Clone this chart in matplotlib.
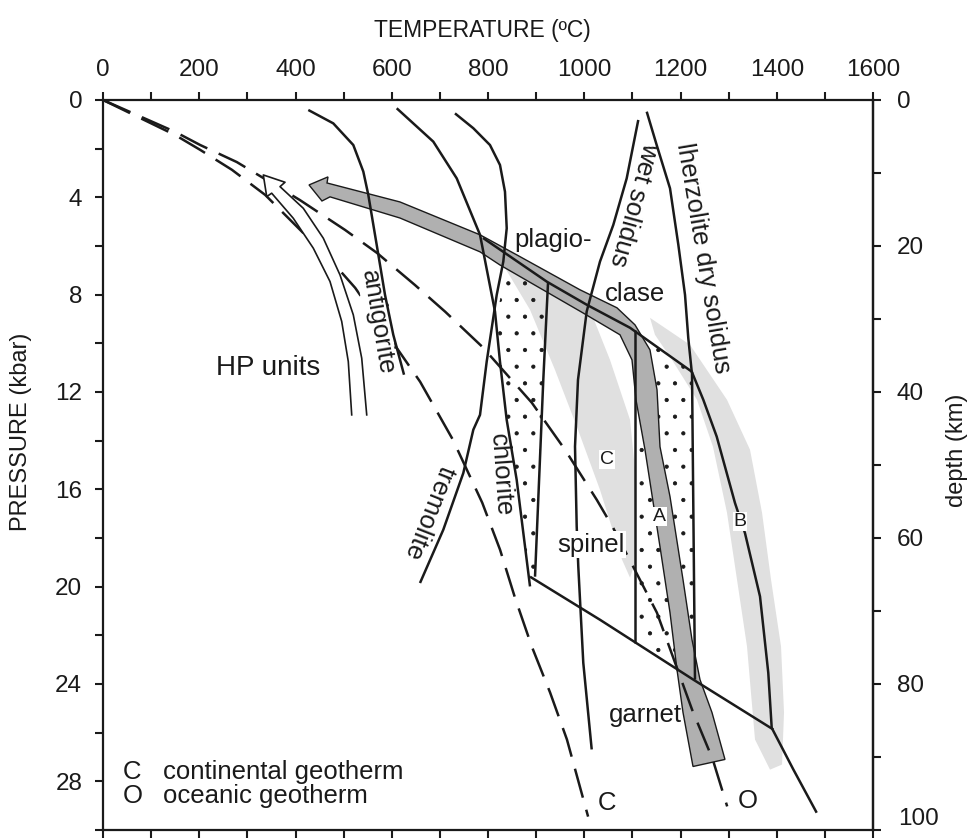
import matplotlib
matplotlib.use('Agg')
import matplotlib.pyplot as plt
from matplotlib.patches import Polygon
from matplotlib.ticker import MultipleLocator, FixedLocator

plt.rcParams['font.family'] = ['Liberation Sans', 'DejaVu Sans']
plt.rcParams['hatch.linewidth'] = 0.6

# ---------------- data (temperature in deg C, pressure in kbar) ----------------
oceanic_T = [0, 150, 202, 278, 409, 503, 569, 648, 711, 788, 891, 960, 1026, 1060, 1151, 1224, 1267, 1297]
oceanic_P = [0, 1.31, 1.85, 2.55, 4.11, 5.34, 6.28, 7.6, 8.7, 10.14, 12.44, 14.37, 16.43, 17.58, 21.07, 25.05, 27.1, 29.03]

continental_T = [0, 150, 202, 268, 337, 478, 524, 659, 727, 788, 825, 856, 891, 929, 964, 1008]
continental_P = [0, 1.44, 2.05, 2.87, 3.9, 6.69, 7.72, 11.58, 13.96, 16.55, 18.48, 20.45, 22.46, 24.35, 26.28, 29.45]

antigorite_T = [426.6, 478.5, 520.1, 540.9, 551.3, 568.7, 586.0, 603.2, 625.5]
antigorite_P = [0.41, 0.96, 1.85, 2.94, 3.90, 5.95, 8.01, 9.65, 11.29]

chlorite_T = [610.3, 686.3, 735.0, 783.4, 814.5, 824.9, 838.8, 859.6, 887.3]
chlorite_P = [0.34, 1.71, 3.22, 5.54, 8.69, 10.75, 13.14, 15.61, 19.99]

tremolite_T = [731.4, 769.5, 804.1, 824.9, 835.3, 838.9, 831.8, 818.1, 797.3, 783.4, 769.5, 748.7, 707.1, 658.7]
tremolite_P = [0.55, 1.16, 1.85, 2.67, 3.77, 5.27, 6.64, 8.01, 10.75, 12.94, 13.55, 15.33, 17.66, 19.85]

wet_solidus_T = [1112.3, 1088.2, 1060.4, 1032.7, 1005.1, 987.0, 980.8, 984.3, 987.6, 998.0, 1015.5]
wet_solidus_P = [0.82, 3.22, 5.13, 6.64, 8.69, 11.50, 14.24, 17.52, 19.17, 23.13, 26.69]

dry_solidus_T = [1129.8, 1150.5, 1178.2, 1195.5, 1209.4, 1216.2, 1223.3, 1247.4, 1275.2, 1313.2, 1334.0,
                 1365.2, 1382.4, 1389.5, 1434.4, 1483.0]
dry_solidus_P = [0.48, 1.85, 3.63, 5.95, 8.01, 9.79, 11.16, 12.32, 13.83, 16.56, 17.80,
                 20.40, 23.54, 25.80, 27.51, 29.29]

plag_spinel_T = [789.6, 922.6, 1005.7, 1095.1, 1223.9]
plag_spinel_P = [5.67, 7.47, 8.42, 9.36, 11.17]

spinel_garnet_T = [887.3, 1032.7, 1226.6, 1392.8]
spinel_garnet_P = [19.59, 21.36, 23.82, 25.87]

field_c_edge_T = [924.7, 914.9, 897.7]
field_c_edge_P = [7.52, 11.50, 19.59]
field_a_left_T = [1105.5, 1105.5]
field_a_left_P = [9.45, 22.30]
field_a_right_T = [1223.9, 1230.1]
field_a_right_P = [11.17, 23.82]

dots_c_T = [831.2, 924.7, 914.9, 897.7, 887.3, 860.3, 839.5, 824.9, 818.7, 829.1]
dots_c_P = [6.90, 7.68, 11.50, 19.59, 20.00, 15.61, 13.14, 10.76, 8.83, 7.80]
dots_a_T = [1105.5, 1223.9, 1230.1, 1105.5]
dots_a_P = [9.45, 11.17, 23.82, 22.30]

stipple_c_T = [835.3, 949.6, 1012.0, 1053.5, 1095.1, 1107.6, 1107.6, 1095.1, 1078.5, 1032.7, 987.0, 939.2, 887.3]
stipple_c_P = [6.90, 7.60, 8.62, 10.68, 13.14, 15.61, 18.89, 19.63, 18.89, 16.02, 13.55, 11.09, 8.62]
stipple_b_T = [1136.6, 1219.7, 1296.6, 1344.4, 1369.4, 1388.1, 1408.9, 1415.1, 1411.0, 1386.0, 1354.8,
               1338.2, 1317.4, 1296.6, 1267.5, 1234.3, 1182.4, 1147.0]
stipple_b_P = [8.95, 10.06, 12.32, 14.37, 16.96, 19.71, 22.46, 25.17, 27.31, 27.52, 26.28,
               22.46, 19.71, 16.96, 14.25, 12.32, 10.68, 9.65]

# P-T path A (grey arrow): outer and inner edges from head to tail, head points
path_outer_T = [465.5, 617.1, 783.4, 860.3, 991.2, 1068.0, 1105.4, 1136.6, 1151.2, 1157.4, 1178.2,
                1205.2, 1223.9, 1240.5, 1265.4, 1292.4]
path_outer_P = [3.41, 4.19, 5.54, 6.37, 7.80, 8.54, 9.24, 10.27, 11.91, 14.25, 16.30,
                19.71, 22.18, 23.82, 25.17, 27.10]
path_inner_T = [471.7, 617.1, 783.4, 824.9, 997.4, 1074.3, 1099.2, 1107.5, 1126.2, 1157.4, 1178.2,
                1192.7, 1205.2, 1226.0]
path_inner_P = [3.98, 4.85, 6.24, 6.78, 8.75, 9.65, 10.68, 12.32, 14.37, 18.36, 21.07,
                23.41, 25.17, 27.39]
path_head_T = [467.5, 428.1, 455.0]      # upper corner, tip, lower corner
path_head_P = [3.16, 3.49, 4.15]

# HP units arrow (hollow): two edges from tail to head, head points
hp_left_T = [516.8, 509.7, 496.0, 471.7, 437.0, 395.4, 350.5]
hp_left_P = [12.94, 10.75, 9.10, 7.46, 6.09, 4.86, 3.83]
hp_right_T = [367.8, 416.2, 457.8, 492.5, 520.1, 537.6, 548.0]
hp_right_P = [3.56, 4.45, 5.68, 7.19, 8.83, 10.61, 12.94]
hp_head_T = [340.2, 333.1, 378.2]        # left corner, tip, right corner
hp_head_P = [3.97, 3.08, 3.38]

x_major = list(range(0, 1601, 200))
y_major = list(range(0, 29, 4))
depth_major = [0, 20, 40, 60, 80, 100]
depth_labels = ['0', '20', '40', '60', '80', '']

# ---------------- figure ----------------
fig = plt.figure(figsize=(9.72, 8.38), dpi=100)
ax = fig.add_axes([103 / 972, 1 - 830 / 838, 770 / 972, 730 / 838])
ax.set_xlim(0, 1600)
ax.set_ylim(30, 0)

LW = 1.8
INK = '#1a1a1a'

# light stipple fields
ax.add_patch(Polygon(list(zip(stipple_c_T, stipple_c_P)), closed=True, fc='#e0e0e0', ec='none', zorder=1))
ax.add_patch(Polygon(list(zip(stipple_b_T, stipple_b_P)), closed=True, fc='#e0e0e0', ec='none', zorder=1))

# dotted fields
for tt, pp in ((dots_c_T, dots_c_P), (dots_a_T, dots_a_P)):
    ax.add_patch(Polygon(list(zip(tt, pp)), closed=True, fc='none', ec=INK, lw=0,
                         hatch='.', zorder=1.5))

# grey P-T path arrow
poly = ([(path_head_T[1], path_head_P[1]), (path_head_T[0], path_head_P[0])]
        + list(zip(path_outer_T, path_outer_P))
        + list(zip(path_inner_T, path_inner_P))[::-1]
        + [(path_head_T[2], path_head_P[2])])
ax.add_patch(Polygon(poly, closed=True, fc='#b0b0b0', ec=INK, lw=1.0, zorder=2))

# geotherms (dashed)
ax.plot(oceanic_T, oceanic_P, color=INK, lw=LW, ls=(0, (12, 5)), zorder=2.6)
ax.plot(continental_T, continental_P, color=INK, lw=LW, ls=(0, (12, 5)), zorder=2.6)

# solid curves
for tt, pp in ((antigorite_T, antigorite_P), (chlorite_T, chlorite_P), (tremolite_T, tremolite_P),
               (wet_solidus_T, wet_solidus_P), (dry_solidus_T, dry_solidus_P),
               (plag_spinel_T, plag_spinel_P), (spinel_garnet_T, spinel_garnet_P),
               (field_c_edge_T, field_c_edge_P), (field_a_left_T, field_a_left_P),
               (field_a_right_T, field_a_right_P)):
    ax.plot(tt, pp, color=INK, lw=LW, solid_capstyle='butt', zorder=3)

# HP units hollow arrow
hp_poly = (list(zip(hp_left_T, hp_left_P))
           + list(zip(hp_head_T, hp_head_P))
           + list(zip(hp_right_T, hp_right_P)))
ax.add_patch(Polygon(hp_poly, closed=False, fc='white', ec='none', zorder=4))
ax.plot([p[0] for p in hp_poly], [p[1] for p in hp_poly], color=INK, lw=1.2, zorder=4.1)

# labels
FS = 18.5
txt = dict(color=INK, fontsize=FS, ha='center', va='center', zorder=6)
ax.text(343, 11.0, 'HP units', **{**txt, 'fontsize': 20})
ax.text(571, 9.15, 'antigorite', rotation=-80.4, rotation_mode='anchor',
        bbox=dict(fc='white', ec='none', pad=0.5), **{**txt, 'zorder': 2.8})
ax.text(678.4, 16.94, 'tremolite', rotation=-111.5, rotation_mode='anchor', **txt)
ax.text(826, 15.4, 'chlorite', rotation=-86, rotation_mode='anchor', **txt)
ax.text(1103, 4.3, 'wet solidus', rotation=-105.4, rotation_mode='anchor', **txt)
ax.text(1246, 6.49, 'lherzolite dry solidus', rotation=-80.5, rotation_mode='anchor', **txt)
ax.text(935, 5.75, 'plagio-', **txt)
ax.text(1105.5, 7.97, 'clase', **txt)
ax.text(1014, 18.27, 'spinel', bbox=dict(fc='white', ec='none', pad=1), **txt)
ax.text(1128, 25.26, 'garnet', **txt)
small = {**txt, 'fontsize': 14}
ax.text(1157, 17.12, 'A', bbox=dict(fc='white', ec='none', pad=0.5), **small)
ax.text(1323.6, 17.33, 'B', bbox=dict(fc='white', ec='none', pad=0.5), **small)
ax.text(1047, 14.78, 'C', bbox=dict(fc='white', ec='none', pad=0.5), **small)
ax.text(1028, 28.9, 'C', **{**txt, 'ha': 'left'})
ax.text(1318, 28.8, 'O', **{**txt, 'ha': 'left'})

ax.text(40, 27.6, 'C', **{**txt, 'ha': 'left'})
ax.text(125, 27.6, 'continental geotherm', **{**txt, 'ha': 'left'})
ax.text(40, 28.6, 'O', **{**txt, 'ha': 'left'})
ax.text(125, 28.6, 'oceanic geotherm', **{**txt, 'ha': 'left'})

# axes styling
for s in ax.spines.values():
    s.set_linewidth(1.6)
    s.set_color(INK)

ax.xaxis.set_major_locator(FixedLocator(x_major))
ax.xaxis.set_minor_locator(MultipleLocator(100))
ax.yaxis.set_major_locator(FixedLocator(y_major))
ax.yaxis.set_minor_locator(MultipleLocator(2))
ax.tick_params(axis='x', which='both', top=True, bottom=True, labeltop=True, labelbottom=False,
               direction='out', length=6, width=1.5, color=INK, pad=8, labelsize=17.5, labelcolor=INK)
ax.tick_params(axis='y', which='both', left=True, right=False, direction='out', length=6, width=1.5,
               color=INK, pad=9, labelsize=17.5, labelcolor=INK)

sec = ax.secondary_yaxis('right', functions=(lambda p: p * 10 / 3, lambda d: d * 0.3))
sec.set_yticks(depth_major, labels=depth_labels)
sec.yaxis.set_minor_locator(MultipleLocator(10))
sec.tick_params(which='both', direction='out', length=6, width=1.5, color=INK, pad=11,
                labelsize=17.5, labelcolor=INK)
sec.spines['right'].set_linewidth(1.6)
# bottom depth label sits just above the page edge
fig.text(898 / 972, 1 - 819 / 838, str(depth_major[-1]), ha='left', va='center', fontsize=17.5, color=INK)

fig.text(482 / 972, 1 - 30 / 838, 'TEMPERATURE (ºC)', ha='center', va='center', fontsize=16.5, color=INK)
fig.text(21 / 972, 1 - 432 / 838, 'PRESSURE (kbar)', ha='center', va='center', rotation=90,
         fontsize=17, color=INK)
fig.text(957 / 972, 1 - 450 / 838, 'depth (km)', ha='center', va='center', rotation=90,
         fontsize=17, color=INK)

fig.savefig('out.png', dpi=100)
